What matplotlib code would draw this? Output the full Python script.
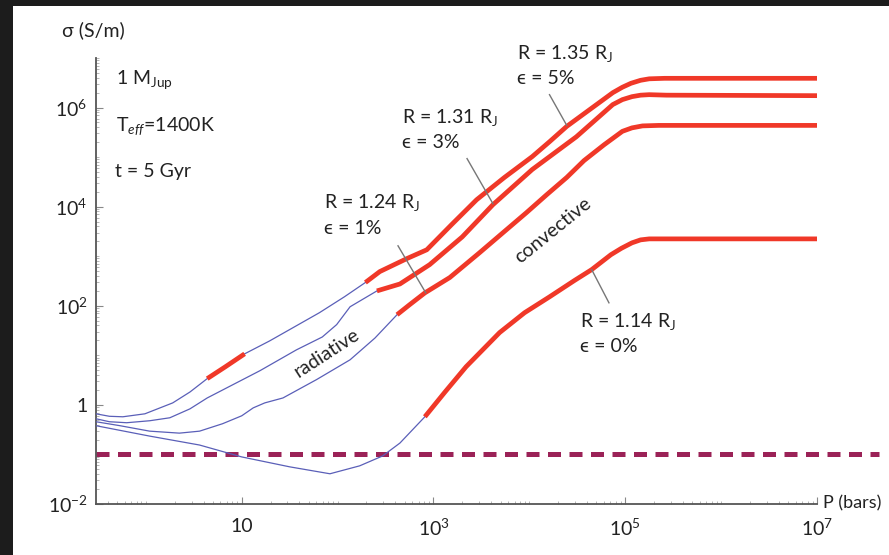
import numpy as np
import matplotlib
matplotlib.use('Agg')
import matplotlib.pyplot as plt
from matplotlib.patches import Rectangle
from matplotlib.ticker import LogLocator, FixedLocator, FixedFormatter, NullFormatter

plt.rcParams['font.family'] = ['Lato', 'DejaVu Sans']
plt.rcParams['mathtext.fontset'] = 'custom'
plt.rcParams['mathtext.rm'] = 'Lato'
plt.rcParams['mathtext.it'] = 'Lato:italic'
plt.rcParams['mathtext.bf'] = 'Lato:bold'

# log10(P / bar) and log10(sigma / S m^-1)
logp_a = [-0.52, -0.38, -0.24, -0.01, 0.28, 0.46, 0.64, 0.83, 1.03, 1.29, 1.50, 1.81, 2.07,
          2.29, 2.44, 2.72, 2.93, 3.19, 3.45, 3.74, 4.03, 4.21, 4.39, 4.63, 4.87, 4.97, 5.06,
          5.16, 5.25, 5.41, 7.0]
logs_a = [-0.18, -0.23, -0.24, -0.18, 0.04, 0.26, 0.53, 0.77, 1.03, 1.29, 1.52, 1.86, 2.18,
          2.47, 2.69, 2.95, 3.13, 3.64, 4.14, 4.59, 5.01, 5.31, 5.62, 5.96, 6.30, 6.41, 6.49,
          6.55, 6.58, 6.59, 6.59]

logp_b = [-0.52, -0.38, -0.20, 0.04, 0.25, 0.46, 0.64, 0.88, 1.19, 1.57, 1.84, 1.99, 2.13,
          2.41, 2.65, 2.96, 3.30, 3.62, 4.03, 4.49, 4.87, 4.97, 5.07, 5.16, 5.25, 5.43, 7.0]
logs_b = [-0.28, -0.34, -0.36, -0.32, -0.26, -0.08, 0.14, 0.38, 0.69, 1.11, 1.37, 1.62, 1.98,
          2.30, 2.44, 2.83, 3.39, 4.04, 4.75, 5.41, 6.06, 6.16, 6.22, 6.25, 6.26, 6.25, 6.24]

logp_c = [-0.52, -0.27, 0.04, 0.35, 0.56, 0.80, 1.00, 1.12, 1.24, 1.43, 1.78, 2.13, 2.39, 2.62,
          2.75, 2.91, 3.17, 3.48, 3.74, 3.97, 4.18, 4.39, 4.57, 4.78, 4.97, 5.07, 5.18, 5.35, 7.0]
logs_c = [-0.34, -0.42, -0.53, -0.57, -0.53, -0.38, -0.22, -0.06, 0.04, 0.14, 0.51, 0.91, 1.35, 1.82,
          2.02, 2.26, 2.57, 3.07, 3.50, 3.88, 4.24, 4.59, 4.93, 5.25, 5.52, 5.59, 5.63, 5.64, 5.64]

logp_d = [-0.52, 0.04, 0.56, 1.00, 1.50, 1.92, 2.23, 2.47, 2.65, 2.91, 3.12, 3.34, 3.69,
          3.95, 4.21, 4.47, 4.65, 4.85, 4.96, 5.07, 5.16, 5.25, 5.35, 7.0]
logs_d = [-0.42, -0.63, -0.81, -1.05, -1.25, -1.39, -1.23, -1.03, -0.77, -0.24, 0.26, 0.77, 1.46,
          1.86, 2.18, 2.51, 2.73, 3.03, 3.16, 3.27, 3.33, 3.35, 3.35, 3.35]

# convective (red) parts: ranges of log10 P
red_a = [(0.64, 1.03), (2.29, 7.0)]
red_b = [(2.41, 7.0)]
red_c = [(2.62, 7.0)]
red_d = [(2.91, 7.0)]

sigma_floor = 0.1
floor_p = [10 ** -0.52, 10 ** 7.65]

blue = '#5a5fb8'
red = '#f03828'

fig = plt.figure(figsize=(8.89, 5.55), dpi=100, facecolor='#1c1c1c')
fig.patches.append(Rectangle((13 / 889, 0), 1, 1 - 6 / 555, transform=fig.transFigure,
                             facecolor='white', edgecolor='none', zorder=-5))
ax = fig.add_axes([96 / 889, 1 - 504 / 555, (817 - 96) / 889, (504 - 58) / 555])
ax.set_facecolor('none')

for lp, ls, segs in [(logp_a, logs_a, red_a), (logp_b, logs_b, red_b),
                     (logp_c, logs_c, red_c), (logp_d, logs_d, red_d)]:
    lp = np.array(lp)
    ls = np.array(ls)
    ax.plot(10 ** lp, 10 ** ls, color=blue, lw=0.9, solid_joinstyle='round', zorder=3)
    for lo, hi in segs:
        m = (lp >= lo - 1e-9) & (lp <= hi + 1e-9)
        ax.plot(10 ** lp[m], 10 ** ls[m], color=red, lw=3.4, solid_capstyle='butt',
                solid_joinstyle='round', zorder=4)

ax.plot(floor_p, [sigma_floor, sigma_floor], color='#9b2257', lw=3.6,
        dashes=(2.6, 1.7), clip_on=False, zorder=2)

ax.set_xscale('log')
ax.set_yscale('log')
ax.set_xlim(10 ** -0.52, 1e7)
ax.set_ylim(1e-2, 1e7)

for s in ['top', 'right']:
    ax.spines[s].set_visible(False)
for s in ['left', 'bottom']:
    ax.spines[s].set_color('#555555')
    ax.spines[s].set_linewidth(1.3)

ax.xaxis.set_major_locator(FixedLocator([10, 1e3, 1e5, 1e7]))
ax.xaxis.set_major_formatter(FixedFormatter(['10', '$10^{3}$', '$10^{5}$', '$10^{7}$']))
ax.yaxis.set_major_locator(FixedLocator([1e-2, 1, 1e2, 1e4, 1e6]))
ax.yaxis.set_major_formatter(FixedFormatter(['$10^{-2}$', '1', '$10^{2}$', '$10^{4}$', '$10^{6}$']))
for a in [ax.xaxis, ax.yaxis]:
    a.set_minor_locator(LogLocator(base=10, subs=np.arange(1, 10), numticks=100))
    a.set_minor_formatter(NullFormatter())
ax.tick_params(which='major', direction='in', length=5, width=0.8, color='#888888',
               labelsize=14, labelcolor='#222222')
ax.tick_params(which='minor', direction='in', length=2.5, width=0.6, color='#aaaaaa')
ax.tick_params(axis='x', which='major', pad=10)
ax.tick_params(axis='y', which='major', pad=6)

tc = '#222222'
fs = 14


def ftext(px, py, s, **kw):
    kw.setdefault('fontsize', fs)
    fig.text(px / 889, 1 - py / 555, s, color=tc, va='center', ha='left', **kw)


ftext(62, 30, 'σ (S/m)')
ftext(823, 503, 'P (bars)', fontsize=13)
ftext(116, 80, '1 M$_{\\mathrm{Jup}}$')
ftext(116, 126, 'T$_{eff}$=1400K')
ftext(115, 172, 't = 5 Gyr')

ftext(517, 53, 'R = 1.35 R$_{\\mathrm{J}}$')
ftext(517, 79, 'ϵ = 5%')
ftext(402, 118, 'R = 1.31 R$_{\\mathrm{J}}$')
ftext(402, 143, 'ϵ = 3%')
ftext(324, 202, 'R = 1.24 R$_{\\mathrm{J}}$')
ftext(324, 228, 'ϵ = 1%')
ftext(580, 321, 'R = 1.14 R$_{\\mathrm{J}}$')
ftext(580, 346, 'ϵ = 0%')

fig.text(553 / 889, 1 - 230 / 555, 'convective', fontsize=fs, color=tc,
         rotation=39, ha='center', va='center', rotation_mode='anchor')
fig.text(327 / 889, 1 - 353 / 555, 'radiative', fontsize=fs, color=tc,
         rotation=33, ha='center', va='center', rotation_mode='anchor')

# leader lines (log10 P, log10 sigma)
leaders = [((4.21, 6.26), (4.39, 5.64)), ((3.35, 4.97), (3.62, 4.06)),
           ((2.63, 3.21), (2.92, 2.26)), ((4.65, 2.73), (4.83, 2.06))]
for (x0, y0), (x1, y1) in leaders:
    ax.plot([10 ** x0, 10 ** x1], [10 ** y0, 10 ** y1], color='#777777', lw=1.0, zorder=5)

fig.savefig('out.png', dpi=100, facecolor=fig.get_facecolor())
